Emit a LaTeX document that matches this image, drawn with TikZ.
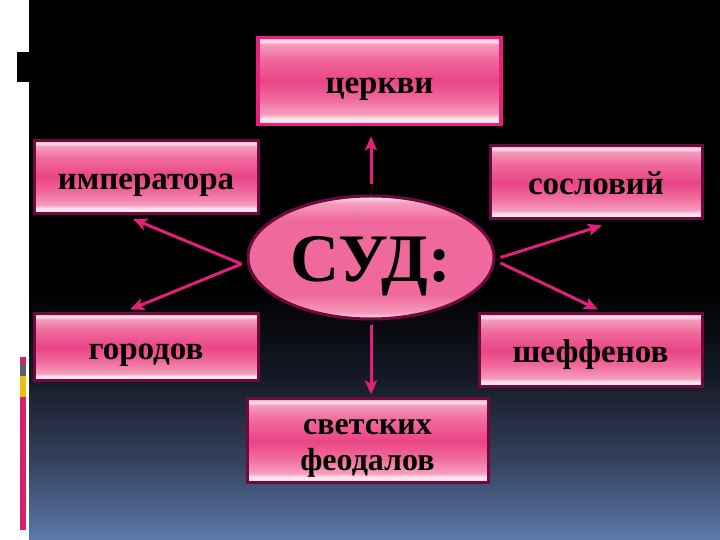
\documentclass[tikz,border=0pt]{standalone}
\usepackage{fontspec}
\setmainfont{Liberation Serif}
\usetikzlibrary{arrows.meta,calc,shapes.geometric}
\definecolor{bgA}{HTML}{5C7AAA}
\definecolor{bgB}{HTML}{34405C}
\definecolor{bgC}{HTML}{161A26}
\definecolor{pW}{HTML}{FFE4EE}
\definecolor{pL}{HTML}{F59CBE}
\definecolor{pM}{HTML}{F0699C}
\definecolor{pD}{HTML}{EA4584}
\definecolor{rim}{HTML}{6E0A3E}
\definecolor{rimB}{HTML}{E8207E}
\definecolor{arrc}{HTML}{E0207A}
\definecolor{barR}{HTML}{D8206E}
\definecolor{barG}{HTML}{5A5E70}
\definecolor{barY}{HTML}{EEBE10}
\pgfdeclareverticalshading{bgshade}{100bp}{color(0bp)=(bgA); color(25bp)=(bgA); color(32.5bp)=(bgB); color(40bp)=(bgC); color(48bp)=(black); color(100bp)=(black)}
\pgfdeclareverticalshading{boxshade}{100bp}{color(0bp)=(pM); color(25bp)=(pM); color(26.5bp)=(pW); color(28.5bp)=(pW); color(31bp)=(pL); color(40bp)=(pM); color(50bp)=(pD); color(62.5bp)=(pM); color(71bp)=(pL); color(73bp)=(pW); color(75bp)=(pL); color(100bp)=(pL)}
\pgfdeclareverticalshading{ellshade}{100bp}{color(0bp)=(pW); color(25bp)=(pW); color(27.5bp)=(pL); color(35bp)=(pM); color(50bp)=(pM); color(65bp)=(pM); color(72bp)=(pL); color(75bp)=(pW); color(100bp)=(pW)}
\tikzset{
  pbox/.style={rectangle, draw=rim, line width=3pt, shading=boxshade, inner sep=0pt, align=center,
    font=\fontsize{33}{36}\selectfont\bfseries, text=black, text height=24.5pt, text depth=0pt},
  pboxB/.style={pbox, draw=rimB, line width=3.5pt},
  lbl/.style={inner sep=0pt, align=center, font=\fontsize{32}{36}\selectfont\bfseries, text=black},
  sudell/.style={ellipse, draw=rim, line width=3pt, shading=ellshade, inner sep=0pt,
    font=\fontsize{68}{70}\selectfont\bfseries, text=black, text height=48pt, text depth=0pt},
  arr/.style={draw=arrc, line width=3pt, -{Stealth[length=14pt,width=12pt,inset=3pt]}}
}
\begin{document}
\begin{tikzpicture}[x=1pt,y=1pt]
\useasboundingbox (0,0) rectangle (720,540);
% background
\fill[white] (0,0) rectangle (29,540);
\shade[shading=bgshade] (29,0) rectangle (720,540);
\fill[black] (17,458) rectangle (29,488);
\fill[barR] (20,176) rectangle (26,183);
\fill[barG] (20,164) rectangle (26,176);
\fill[barY] (20,143) rectangle (26,164);
\fill[barR] (20,10) rectangle (26,143);
% nodes
\node[pboxB, minimum width=243pt, minimum height=87pt] (cerkvi) at (379.5,459) {церкви};
\node[pbox, minimum width=224pt, minimum height=73pt] (imper) at (146,363) {императора};
\node[pbox, minimum width=212pt, minimum height=73pt] (soslov) at (596,357.5) {сословий};
\node[pbox, minimum width=224pt, minimum height=67pt] (gorod) at (146,192.5) {городов};
\node[pbox, minimum width=223pt, minimum height=73pt] (sheff) at (590.5,189.5) {шеффенов};
\node[pbox, minimum width=241pt, minimum height=84pt] (svet) at (367.5,99) {};
\node[lbl] (svett) at ($(svet.center)+(0,-7.5)$) {светских\\феодалов};
\node[sudell, minimum width=246pt, minimum height=123pt] (sud) at (371,282.5) {СУД:};
\fill[olive!70!yellow] (358,327) circle (1.2pt);
% arrows
\draw[arr] ($(sud.north)+(0,10)$) -- ($(sud.north |- cerkvi.south)+(0,-10)$);
\draw[arr] ($(sud.south)+(0,-5)$) -- ($(sud.south |- svet.north)+(0,3)$);
\draw[arr] ($(sud.west)+(-5,-6.5)$) -- ($(imper.south)+(-13,-4)$);
\draw[arr] ($(sud.west)+(-5,-6.5)$) -- ($(gorod.north)+(-16,3)$);
\draw[arr] ($(sud.east)+(5,0)$) -- ($(soslov.south)+(6,-5)$);
\draw[arr] ($(sud.east)+(5,-5.5)$) -- ($(sheff.north)+(7.5,3)$);
\end{tikzpicture}
\end{document}
